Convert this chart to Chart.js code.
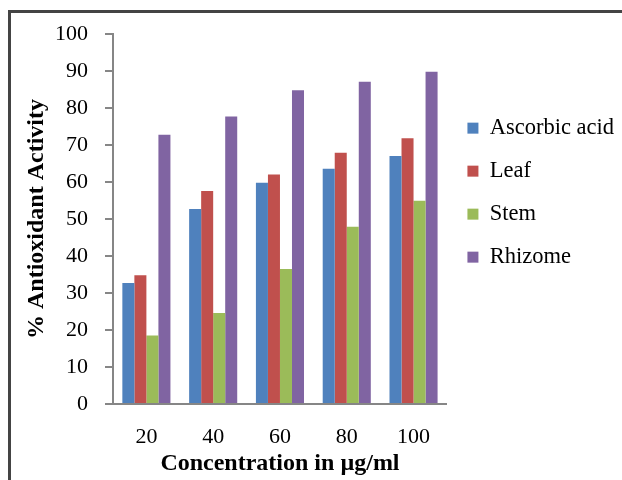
<!DOCTYPE html>
<html>
<head>
<meta charset="utf-8">
<script src="https://cdn.jsdelivr.net/npm/chart.js@4.4.1/dist/chart.umd.min.js"></script>
<style>
    body { margin: 0; background: #ffffff; }
    #caixa { position: relative; width: 622px; height: 480px; overflow: hidden; }
    #moldura { position: absolute; left: 8px; top: 10px; width: 700px; height: 600px; border: 3px solid #444444; box-sizing: border-box; }
    #myChart { position: absolute; left: 0; top: 0; }
</style>
</head>
<body>
<div id="caixa">
    <div id="moldura"></div>
    <canvas id="myChart" width="622" height="480"></canvas>
</div>
<script>
// dados
var concentracoes = ['20', '40', '60', '80', '100'];
var acidoAscorbico = [32.7, 52.7, 59.8, 63.6, 67.0];
var folha = [34.8, 57.6, 62.0, 67.9, 71.8];
var caule = [18.5, 24.6, 36.5, 47.9, 54.9];
var rizoma = [72.8, 77.7, 84.8, 87.1, 89.8];
var ticksY = [0, 10, 20, 30, 40, 50, 60, 70, 80, 90, 100];

var fonte = "'Liberation Serif', 'Times New Roman', serif";

const ctx = document.getElementById('myChart');

var dados = {
    labels: concentracoes,
    datasets: [
        { label: 'Ascorbic acid', data: acidoAscorbico, backgroundColor: '#4F81BD' },
        { label: 'Leaf', data: folha, backgroundColor: '#C0504D' },
        { label: 'Stem', data: caule, backgroundColor: '#9BBB59' },
        { label: 'Rhizome', data: rizoma, backgroundColor: '#8064A2' }
    ]
};

var myChart = new Chart(ctx, {
    type: 'bar',
    data: dados,
    options: {
        responsive: false,
        animation: false,
        events: [],
        datasets: {
            bar: { barPercentage: 1, categoryPercentage: 0.72, borderWidth: 0 }
        },
        layout: { padding: { top: 34, left: 10, right: -2, bottom: 2 } },
        plugins: {
            tooltip: { enabled: false },
            legend: {
                position: 'right',
                align: 'start',
                maxWidth: 180,
                title: { display: true, text: ' ', font: { size: 12 }, padding: { top: 48, bottom: 0 } },
                labels: {
                    color: '#000000',
                    boxWidth: 11,
                    boxHeight: 11,
                    padding: 20.5,
                    font: { family: fonte, size: 22.5 }
                }
            }
        },
        scales: {
            x: {
                afterFit: function (eixo) { eixo.height = 74; },
                grid: { display: false, drawTicks: false },
                border: { display: true, color: '#868686', width: 2 },
                ticks: { color: '#000000', padding: 20, font: { family: fonte, size: 22 } },
                title: {
                    display: true,
                    text: 'Concentration in µg/ml',
                    color: '#000000',
                    padding: { top: 0, bottom: 0 },
                    font: { family: fonte, size: 24, weight: 'bold' }
                }
            },
            y: {
                min: 0,
                max: 100,
                afterBuildTicks: function (eixo) {
                    eixo.ticks = ticksY.map(function (v) { return { value: v }; });
                },
                afterFit: function (eixo) { eixo.width = 103; },
                grid: { display: true, drawOnChartArea: false, tickLength: 8, color: '#868686', lineWidth: 2 },
                border: { display: true, color: '#868686', width: 2 },
                ticks: { color: '#000000', padding: 17, font: { family: fonte, size: 22 } },
                title: {
                    display: true,
                    text: '% Antioxidant Activity',
                    color: '#000000',
                    padding: { top: 12, bottom: 3 },
                    font: { family: fonte, size: 24, weight: 'bold' }
                }
            }
        }
    }
});
</script>
</body>
</html>
